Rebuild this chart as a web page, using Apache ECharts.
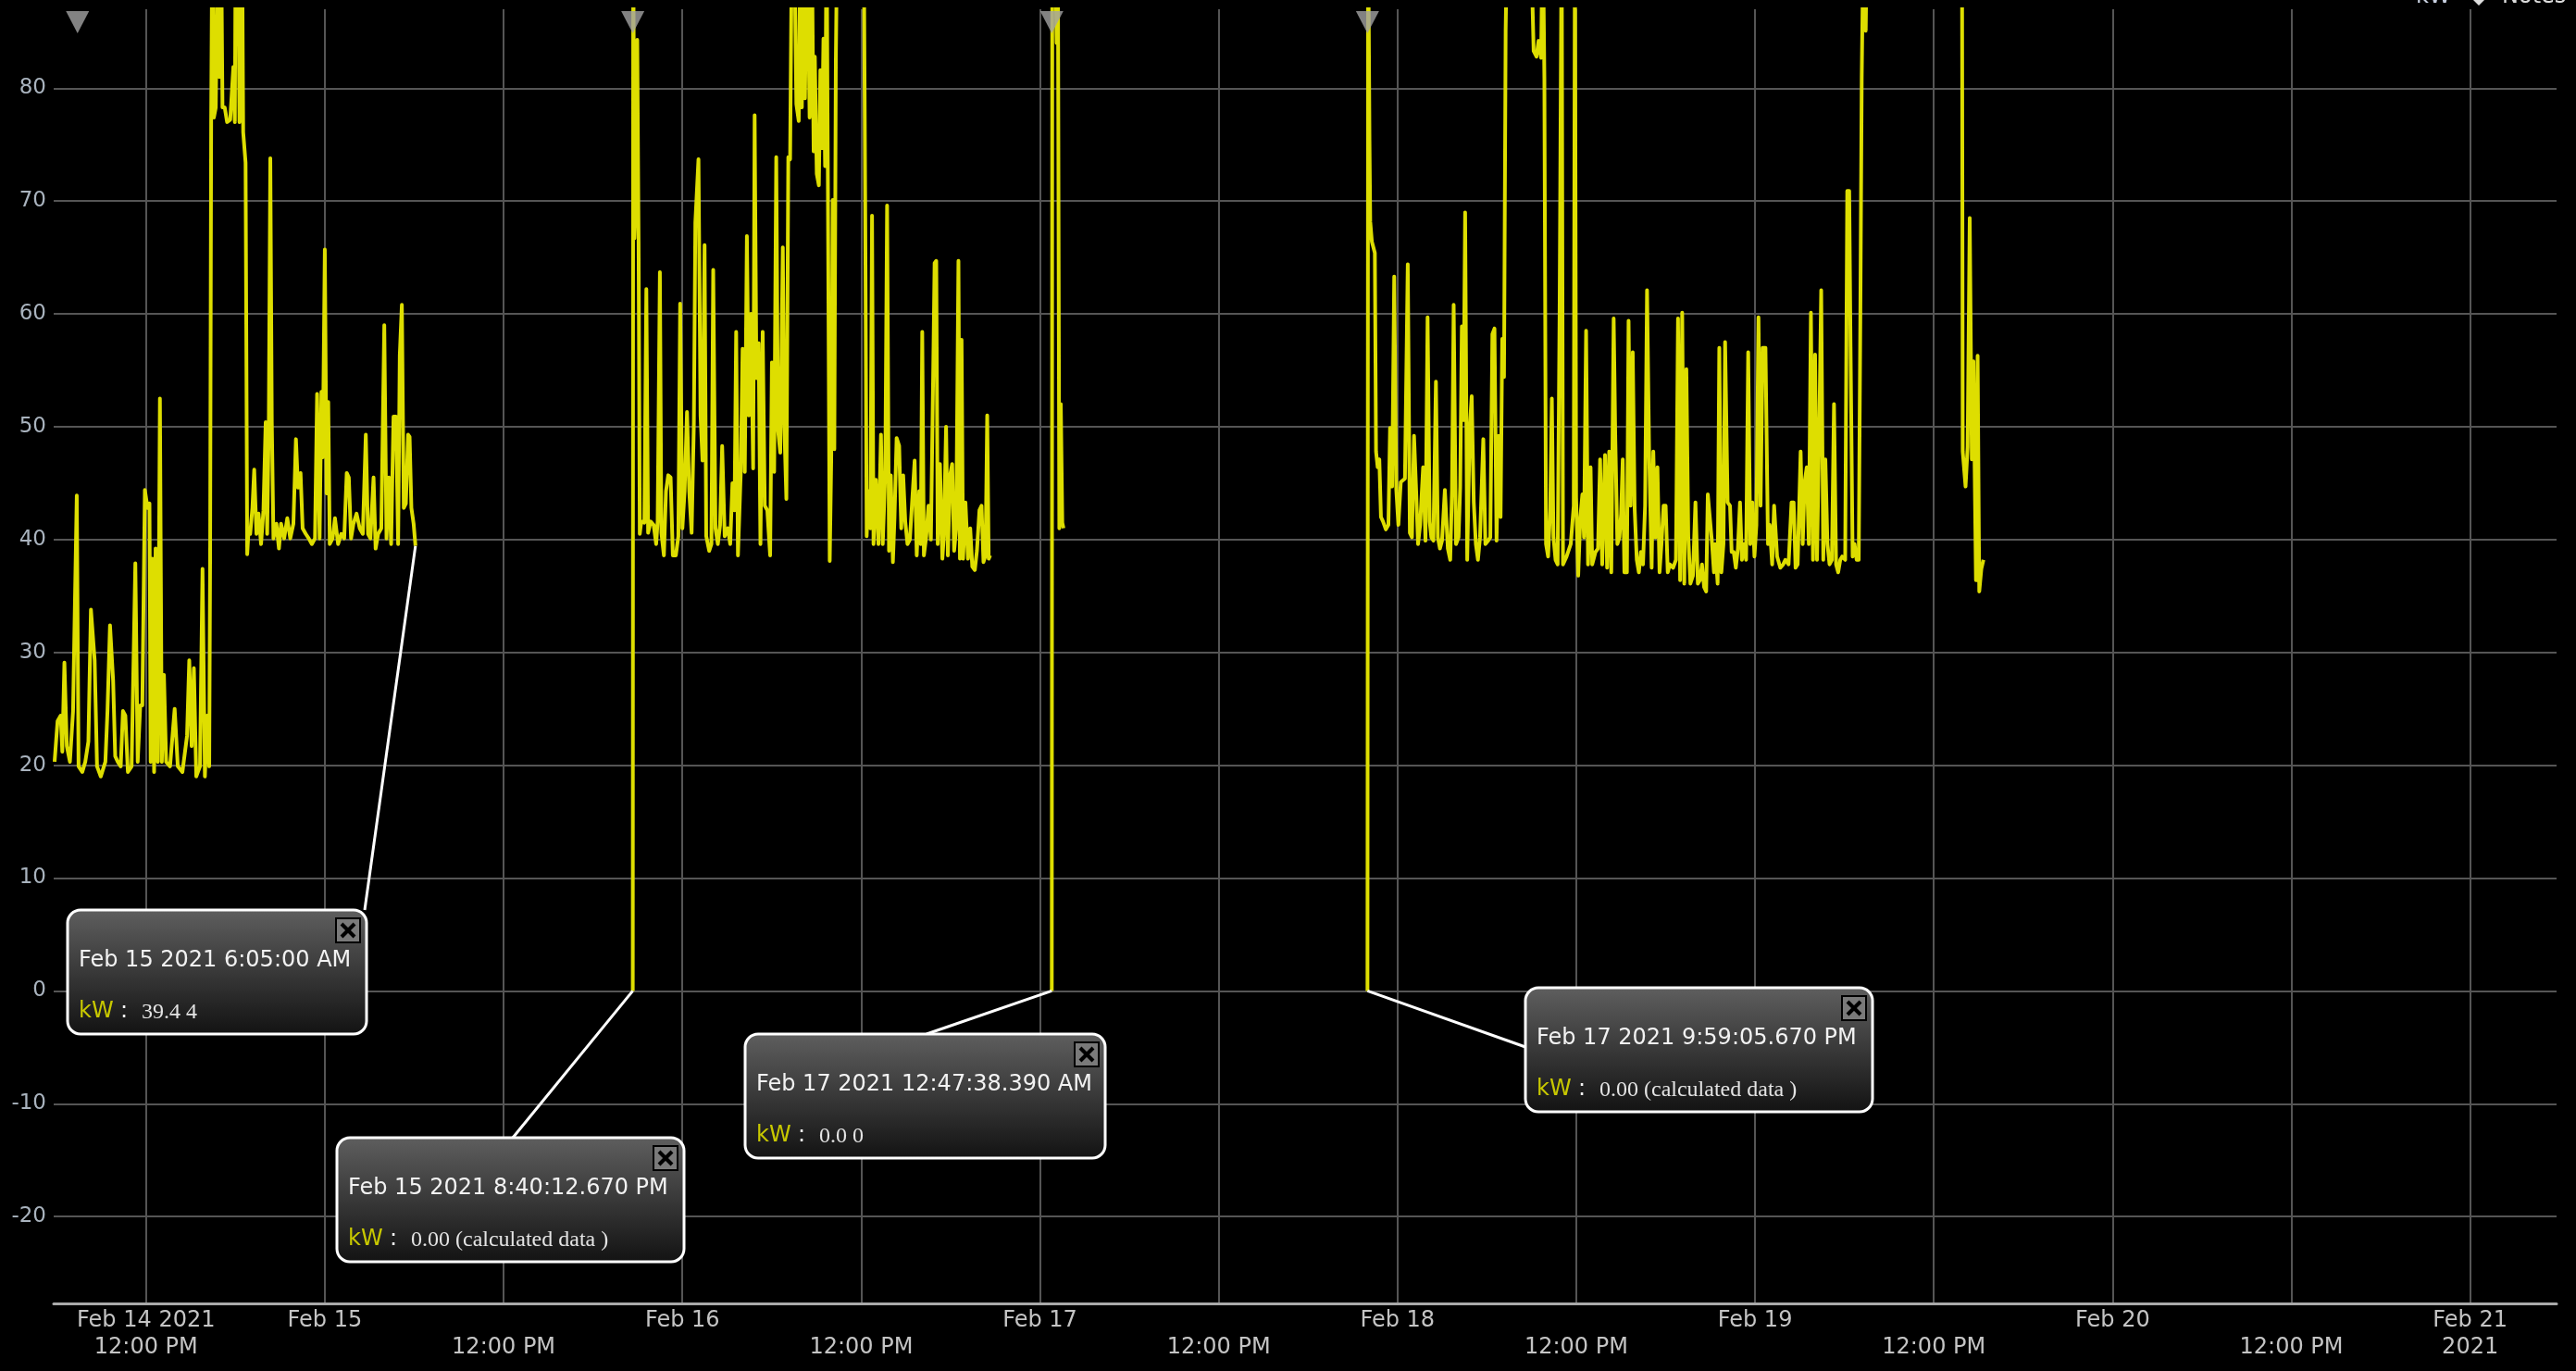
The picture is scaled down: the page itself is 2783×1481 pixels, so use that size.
<!DOCTYPE html>
<html><head><meta charset="utf-8">
<script src="https://cdn.jsdelivr.net/npm/echarts@6/dist/echarts.min.js"></script>
<style>html,body{margin:0;padding:0;background:#000;overflow:hidden}#c{width:2783px;height:1481px}</style>
</head><body><div id="c"></div>
<script>
// time = hours since Feb 14 2021 00:00, value = kW
const segA = [[5.86,20.3],[6.06,23.9],[6.27,24.4],[6.38,21.2],[6.52,29.1],[6.68,21.7],[6.89,20.3],[7.10,24.8],[7.35,43.9],[7.47,19.9],[7.72,19.4],[7.92,20.3],[8.13,22.1],[8.30,33.8],[8.55,29.3],[8.71,19.9],[8.96,19.0],[9.27,20.3],[9.41,24.8],[9.58,32.4],[9.79,27.5],[9.93,20.8],[10.10,20.3],[10.30,19.9],[10.45,24.8],[10.61,24.4],[10.78,19.4],[11.03,19.9],[11.28,37.9],[11.44,20.3],[11.61,25.3],[11.75,25.3],[11.92,44.4],[12.10,42.8],[12.23,43.2],[12.31,20.3],[12.43,38.3],[12.54,19.4],[12.64,39.2],[12.79,20.3],[12.93,52.5],[13.06,20.3],[13.20,28.0],[13.35,20.3],[13.61,19.9],[13.92,25.0],[14.13,19.9],[14.44,19.4],[14.75,22.6],[14.90,29.3],[15.06,21.7],[15.21,28.6],[15.37,19.0],[15.62,19.9],[15.79,37.4],[15.95,19.0],[16.10,24.4],[16.24,19.9],[16.30,38.3],[16.37,77.0],[16.45,95],[16.55,77.4],[16.68,78.3],[16.82,95],[16.92,81.0],[17.03,95],[17.13,78.3],[17.28,78.3],[17.44,77.0],[17.65,77.2],[17.86,81.9],[17.96,77.0],[18.02,95],[18.17,95],[18.27,77.0],[18.44,95],[18.52,76.1],[18.68,73.4],[18.79,38.7],[18.89,41.0],[18.99,40.5],[19.14,42.8],[19.26,46.2],[19.41,40.5],[19.55,42.3],[19.72,39.6],[19.88,42.6],[20.03,50.4],[20.13,40.5],[20.24,50.4],[20.34,73.8],[20.44,50.4],[20.55,40.1],[20.75,41.4],[20.92,39.2],[21.06,41.4],[21.27,40.1],[21.48,41.9],[21.68,40.1],[21.89,41.4],[22.06,48.9],[22.20,44.6],[22.37,45.9],[22.51,41.0],[22.72,40.5],[22.92,40.1],[23.13,39.6],[23.34,40.1],[23.48,52.9],[23.65,40.1],[23.77,53.1],[23.86,47.3],[24.00,65.7],[24.12,44.1],[24.23,52.2],[24.33,39.6],[24.52,40.1],[24.68,41.9],[24.89,39.6],[25.10,40.5],[25.30,40.1],[25.47,45.9],[25.61,45.5],[25.76,40.1],[25.92,41.4],[26.13,42.3],[26.34,41.0],[26.55,40.5],[26.75,49.3],[26.90,40.5],[27.06,40.1],[27.27,45.5],[27.41,39.2],[27.58,40.5],[27.79,41.0],[27.99,59.0],[28.14,40.1],[28.30,45.5],[28.45,39.6],[28.61,50.9],[28.78,50.9],[28.92,39.6],[29.03,56.3],[29.17,60.8],[29.30,42.8],[29.44,43.2],[29.59,49.3],[29.69,49.1],[29.81,42.8],[29.96,41.4],[30.0833,39.44]];

const segB = [[44.67,0],[44.70,95],[44.78,66.7],[44.86,70.0],[44.97,84.3],[45.06,66.4],[45.14,40.5],[45.24,41.6],[45.45,41.5],[45.58,62.2],[45.70,40.6],[45.87,41.6],[46.07,41.3],[46.24,39.6],[46.34,41.6],[46.49,63.7],[46.59,40.6],[46.76,38.6],[46.90,44.3],[47.05,45.7],[47.21,45.5],[47.36,38.6],[47.56,38.6],[47.73,40.3],[47.85,60.9],[48.00,41.0],[48.15,44.3],[48.31,51.3],[48.46,44.3],[48.62,40.6],[48.77,50.3],[48.87,68.1],[49.08,73.7],[49.22,51.0],[49.35,47.0],[49.49,66.1],[49.60,40.3],[49.80,39.0],[49.95,39.6],[50.07,63.9],[50.22,41.0],[50.38,39.6],[50.53,41.3],[50.67,48.3],[50.84,40.3],[51.05,41.0],[51.21,39.6],[51.36,45.0],[51.50,42.6],[51.61,58.4],[51.73,38.6],[51.92,46.0],[52.04,56.9],[52.19,46.0],[52.33,66.9],[52.46,51.0],[52.60,60.0],[52.75,46.3],[52.85,77.6],[52.97,54.3],[53.12,57.4],[53.24,39.6],[53.39,58.4],[53.53,43.0],[53.70,42.6],[53.89,38.6],[54.01,55.7],[54.16,46.0],[54.30,73.9],[54.42,49.7],[54.57,47.7],[54.74,65.9],[54.84,50.3],[54.98,43.6],[55.11,73.9],[55.23,73.7],[55.36,95],[55.50,95],[55.65,78.6],[55.81,77.1],[55.92,95],[56.02,78.3],[56.12,95],[56.23,79.1],[56.37,95],[56.54,77.4],[56.68,95],[56.81,74.4],[56.89,82.8],[57.02,72.4],[57.16,71.4],[57.26,81.6],[57.37,74.7],[57.47,84.4],[57.58,73.1],[57.68,95],[57.78,95],[57.89,38.1],[57.99,47.0],[58.09,70.1],[58.20,48.0],[58.30,82.4],[58.40,95],[58.51,95],[59.34,95],[60.17,95],[60.27,70.4],[60.37,40.3],[60.48,44.3],[60.62,41.0],[60.73,68.7],[60.83,39.6],[60.99,45.3],[61.16,39.6],[61.33,49.3],[61.45,39.6],[61.62,46.0],[61.74,69.6],[61.87,39.0],[61.99,45.7],[62.13,38.0],[62.24,42.0],[62.38,49.0],[62.55,48.3],[62.69,41.0],[62.82,45.7],[62.96,41.6],[63.11,39.6],[63.27,40.0],[63.42,43.3],[63.59,47.0],[63.73,38.6],[63.90,44.3],[64.00,39.6],[64.10,58.4],[64.21,38.6],[64.37,40.3],[64.52,43.0],[64.68,40.0],[64.83,54.3],[64.93,64.5],[65.04,64.7],[65.14,39.6],[65.29,46.7],[65.45,38.3],[65.55,40.3],[65.70,50.0],[65.82,38.6],[65.97,45.7],[66.11,46.7],[66.24,39.0],[66.38,41.0],[66.53,64.7],[66.63,38.3],[66.74,57.7],[66.84,38.3],[67.00,43.3],[67.17,38.3],[67.32,41.0],[67.46,37.6],[67.63,37.3],[67.77,39.0],[67.94,42.6],[68.08,43.0],[68.21,38.0],[68.35,38.6],[68.46,51.0],[68.56,38.3],[68.66,38.6]];

const segB2 = [[72.794,0],[72.83,95],[73.00,95],[73.12,84.0],[73.20,95],[73.30,41.0],[73.40,52.0],[73.50,41.5],[73.58,41.0]];

const segC = [[93.985,0],[94.03,95],[94.12,75.4],[94.17,68.2],[94.28,66.4],[94.48,65.4],[94.56,47.8],[94.67,46.4],[94.78,47.1],[94.89,42.0],[95.03,41.6],[95.22,40.9],[95.39,41.3],[95.50,49.9],[95.64,44.7],[95.78,63.3],[95.92,44.4],[96.06,41.3],[96.22,45.1],[96.33,45.1],[96.50,45.4],[96.69,64.4],[96.83,40.6],[96.97,40.2],[97.11,49.2],[97.25,44.4],[97.38,39.6],[97.52,41.3],[97.72,46.4],[97.88,39.9],[98.02,59.7],[98.16,41.6],[98.27,40.2],[98.41,39.9],[98.58,54.0],[98.71,40.2],[98.85,39.2],[98.99,39.9],[99.18,44.4],[99.38,39.2],[99.54,38.2],[99.66,44.4],[99.77,60.8],[99.93,39.6],[100.10,40.2],[100.21,44.7],[100.32,58.9],[100.43,50.6],[100.54,69.0],[100.68,38.2],[100.85,49.9],[100.98,52.7],[101.12,43.3],[101.26,39.6],[101.40,38.2],[101.54,40.2],[101.76,48.9],[101.90,39.6],[102.09,39.9],[102.23,40.2],[102.37,58.2],[102.51,58.7],[102.65,39.9],[102.79,49.2],[102.92,42.0],[103.03,57.8],[103.15,54.4],[103.26,85.1],[103.37,95],[104.03,95],[104.92,95],[105.14,83.3],[105.33,82.8],[105.47,84.2],[105.64,82.7],[105.75,95],[105.86,80.9],[105.97,39.6],[106.11,38.5],[106.25,42.7],[106.36,52.5],[106.47,40.2],[106.61,38.2],[106.75,37.8],[106.88,59.9],[107.02,95],[107.11,37.8],[107.35,38.5],[107.63,39.6],[107.83,43.0],[107.91,95],[107.99,43.7],[108.13,36.8],[108.27,41.9],[108.41,44.0],[108.52,40.2],[108.66,58.5],[108.79,37.8],[108.96,46.4],[109.07,37.8],[109.29,38.9],[109.46,39.2],[109.60,47.1],[109.74,37.8],[109.93,47.5],[110.07,37.5],[110.21,47.8],[110.35,37.1],[110.51,59.6],[110.62,48.9],[110.76,39.6],[110.90,40.2],[111.01,42.3],[111.12,47.1],[111.23,37.1],[111.40,37.1],[111.51,59.4],[111.65,43.0],[111.79,56.6],[111.92,42.7],[112.06,38.2],[112.20,37.1],[112.34,38.9],[112.48,37.8],[112.62,43.0],[112.75,62.1],[112.89,47.8],[113.06,37.5],[113.17,47.8],[113.31,40.2],[113.45,46.4],[113.59,37.1],[113.72,39.6],[113.86,43.0],[114.00,43.0],[114.14,37.1],[114.28,37.8],[114.50,37.5],[114.69,38.2],[114.83,59.6],[114.97,36.4],[115.11,60.1],[115.25,36.1],[115.39,55.1],[115.52,40.2],[115.66,36.1],[115.83,36.8],[116.00,43.3],[116.16,36.1],[116.30,36.4],[116.44,37.8],[116.58,35.8],[116.72,35.4],[116.83,44.0],[116.94,44.0],[117.10,39.9],[117.24,37.1],[117.32,39.6],[117.49,36.1],[117.60,57.0],[117.74,37.1],[117.88,39.6],[117.99,57.5],[118.16,43.3],[118.32,43.0],[118.43,38.9],[118.57,38.9],[118.71,37.5],[118.85,39.2],[118.99,43.3],[119.12,38.2],[119.26,39.6],[119.40,38.2],[119.54,56.6],[119.68,39.6],[119.82,43.3],[119.96,38.5],[120.09,41.3],[120.23,59.7],[120.37,43.0],[120.51,57.0],[120.70,57.0],[120.87,39.6],[120.98,41.3],[121.15,37.8],[121.28,43.0],[121.48,38.5],[121.70,37.5],[121.89,37.8],[122.03,38.2],[122.25,37.8],[122.45,43.3],[122.59,43.3],[122.72,37.5],[122.86,37.8],[123.06,47.8],[123.20,39.6],[123.33,45.1],[123.47,46.4],[123.61,39.6],[123.75,60.1],[123.89,38.2],[124.03,56.4],[124.16,38.2],[124.33,51.6],[124.44,62.1],[124.58,38.2],[124.72,47.1],[124.86,39.6],[125.00,37.8],[125.16,38.2],[125.30,52.0],[125.44,37.8],[125.58,37.1],[125.72,38.2],[125.85,38.5],[126.05,38.2],[126.19,70.9],[126.32,70.9],[126.41,57.1],[126.55,38.5],[126.68,39.6],[126.82,38.2],[126.96,38.2],[127.07,60.2],[127.16,80.9],[127.29,95],[127.43,85.1],[127.52,95]];

const segD = [[133.89,95],[133.94,47.8],[134.13,44.7],[134.27,48.2],[134.41,68.5],[134.55,47.1],[134.66,55.8],[134.77,43.0],[134.83,36.4],[134.94,56.3],[135.05,35.4],[135.19,37.4],[135.33,38.2]];

// note markers (hours since Feb 14 00:00)
const noteTimes = [7.4, 44.67, 72.794, 93.985];

// annotation callouts
const annTimes = [30.0833, 44.67, 72.794, 93.985];
const annValues = [39.44, 0, 0, 0];
const annTitles = ['Feb 15 2021 6:05:00 AM', 'Feb 15 2021 8:40:12.670 PM', 'Feb 17 2021 12:47:38.390 AM', 'Feb 17 2021 9:59:05.670 PM'];
const annTexts = ['39.4 4', '0.00 (calculated data )', '0.0 0', '0.00 (calculated data )'];

// ticks
const xTickValues = [12,24,36,48,60,72,84,96,108,120,132,144,156,168];
const xTickLabels = ['Feb 14 2021\n12:00 PM','Feb 15\n ',' \n12:00 PM','Feb 16\n ',' \n12:00 PM','Feb 17\n ',' \n12:00 PM','Feb 18\n ',' \n12:00 PM','Feb 19\n ',' \n12:00 PM','Feb 20\n ',' \n12:00 PM','Feb 21\n2021'];
const yTickValues = [-20,-10,0,10,20,30,40,50,60,70,80];

const X_MIN = 5.8, X_MAX = 173.8, Y_MIN = -27.7, Y_MAX = 87.0;

const GAP = ['-','-'];
const kwData = [].concat(segA, [GAP], segB, [GAP], segB2, [GAP], segC, [GAP], segD);

const chart = echarts.init(document.getElementById('c'), null, {renderer:'canvas', width:2783, height:1481});
const FONT = '"DejaVu Sans", Verdana, sans-serif';
chart.setOption({
  backgroundColor: '#000',
  animation: false,
  grid: {left: 58, right: 21, top: 10, bottom: 73},
  xAxis: {
    type: 'value', min: X_MIN, max: X_MAX,
    axisLine: {show: true, onZero: false, lineStyle: {color: '#a9a9a9', width: 3}},
    axisTick: {show: false, customValues: xTickValues},
    axisLabel: {customValues: xTickValues, color: '#c4c4c4', fontFamily: FONT, fontSize: 24, lineHeight: 29, margin: 4,
      formatter: v => { const i = xTickValues.indexOf(v); return i >= 0 ? xTickLabels[i] : ''; }},
    splitLine: {show: true, lineStyle: {color: '#555', width: 2}}
  },
  yAxis: {
    type: 'value', min: Y_MIN, max: Y_MAX,
    axisLine: {show: false},
    axisTick: {show: false, customValues: yTickValues},
    axisLabel: {customValues: yTickValues, color: '#a9b3be', fontFamily: FONT, fontSize: 23, margin: 8},
    splitLine: {show: true, lineStyle: {color: '#555', width: 2}}
  },
  series: [
    {type: 'line', data: kwData, showSymbol: false, symbol: 'none', connectNulls: false, clip: true, silent: true,
     lineStyle: {color: '#dede00', width: 4, join: 'round'}, z: 3},
    {type: 'scatter', data: noteTimes.map(t => [t, Y_MAX]), symbol: 'triangle', symbolRotate: 180,
     symbolSize: [25, 24], symbolOffset: [0, 14], itemStyle: {color: '#a3a3a3'}, clip: false, silent: true, z: 4}
  ]
});

// callout layout (offsets from the anchor point, in px)
const annLayout = [
  {dx: -376, dy: 393, w: 323, cx: 321, cy: 0},
  {dx: -320, dy: 159, w: 375, cx: 190, cy: 0},
  {dx: -331, dy: 47,  w: 389, cx: 196, cy: 0},
  {dx: 171,  dy: -3,  w: 375, cx: 0,   cy: 64}
];
const H = 134;
const g = [];
annTimes.forEach((t, i) => {
  const p = chart.convertToPixel({gridIndex: 0}, [t, annValues[i]]);
  const L = annLayout[i];
  const bx = Math.round(p[0] + L.dx), by = Math.round(p[1] + L.dy);
  g.push({type: 'line', z: 50, shape: {x1: p[0], y1: p[1], x2: bx + L.cx, y2: by + L.cy}, style: {stroke: '#fff', lineWidth: 3}});
  g.push({type: 'rect', z: 51, shape: {x: bx, y: by, width: L.w, height: H, r: 14},
    style: {fill: new echarts.graphic.LinearGradient(0, 0, 0, 1, [{offset: 0, color: '#5f5f5f'}, {offset: 1, color: '#121212'}]), stroke: '#fff', lineWidth: 3}});
  const cbx = bx + L.w - 33, cby = by + 9;
  g.push({type: 'rect', z: 52, shape: {x: cbx, y: cby, width: 26, height: 26}, style: {fill: '#7a7a7a', stroke: '#000', lineWidth: 2}});
  g.push({type: 'line', z: 53, shape: {x1: cbx + 6, y1: cby + 6, x2: cbx + 20, y2: cby + 20}, style: {stroke: '#000', lineWidth: 4}});
  g.push({type: 'line', z: 53, shape: {x1: cbx + 20, y1: cby + 6, x2: cbx + 6, y2: cby + 20}, style: {stroke: '#000', lineWidth: 4}});
  g.push({type: 'text', z: 53, x: bx + 12, y: by + 55, style: {text: annTitles[i], fill: '#f2f2f2', font: '24px ' + FONT, verticalAlign: 'middle'}});
  g.push({type: 'text', z: 53, x: bx + 12, y: by + 110, style: {text: 'kW', fill: '#c8c800', font: '24px ' + FONT, verticalAlign: 'middle'}});
  g.push({type: 'text', z: 53, x: bx + 57, y: by + 110, style: {text: ':', fill: '#f2f2f2', font: '24px ' + FONT, verticalAlign: 'middle'}});
  g.push({type: 'text', z: 53, x: bx + 80, y: by + 111, style: {text: annTexts[i], fill: '#e4e4e4', font: '24px "Liberation Serif", "Times New Roman", serif', verticalAlign: 'middle'}});
});
// clipped legend at the top right
g.push({type: 'text', z: 60, x: 2610, y: -3, style: {text: 'kW', fill: '#c8d0e0', font: '24px ' + FONT, verticalAlign: 'middle'}});
g.push({type: 'polygon', z: 60, shape: {points: [[2672, 0], [2684, 0], [2678, 6]]}, style: {fill: '#dddddd'}});
g.push({type: 'text', z: 60, x: 2703, y: -3, style: {text: 'Notes', fill: '#dddddd', font: '24px ' + FONT, verticalAlign: 'middle'}});
chart.setOption({graphic: g});
</script>
</body></html>
